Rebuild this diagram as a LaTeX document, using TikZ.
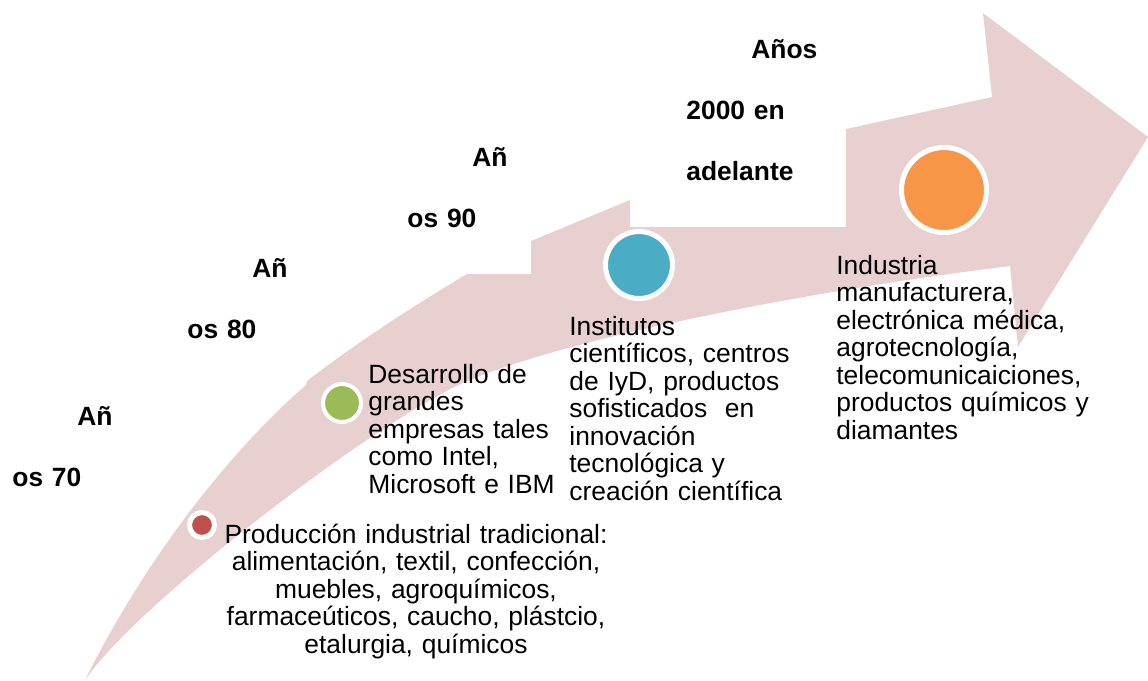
\documentclass[tikz,border=0pt]{standalone}
\usepackage{fontspec}
\setmainfont{Liberation Sans}

\definecolor{banda}{RGB}{232,208,209}
\definecolor{rojo}{RGB}{192,80,77}
\definecolor{verde}{RGB}{155,187,89}
\definecolor{azul}{RGB}{75,172,198}
\definecolor{naranja}{RGB}{247,150,70}

\tikzset{
  punto/.style={circle, draw=white, inner sep=0pt},
  etapa/.style={inner sep=0pt, font=\fontsize{13.2pt}{13.75pt}\selectfont},
  periodo/.style={inner sep=0pt, anchor=base west, align=left, text width=80pt,
    font=\fontsize{13.2pt}{30.5pt}\selectfont\bfseries}
}

\begin{document}
\begin{tikzpicture}[x=0.5pt, y=-0.5pt]
\useasboundingbox (0,0) rectangle (1148,681);

% flecha curva
\fill[banda] (85,680) .. controls (140,570) and (220,460) .. (306,385)
  -- (307,381) .. controls (360,340) and (420,302) .. (467,274)
  -- (531,274) -- (531,241) -- (630,200) -- (630,227) -- (846,227) -- (846,129)
  -- (992,97) -- (983,13) -- (1148,137) -- (1018,347) -- (1010,266)
  .. controls (800,292) and (560,340) .. (463,383)
  .. controls (372,424) and (138,603) .. (85,680)
  -- cycle;

\node[punto, fill=rojo, line width=2.5pt, minimum size=12.5pt] (p70) at (202,525) {};
\node[punto, fill=verde, line width=2pt, minimum size=19pt] (p80) at (342,403) {};
\node[punto, fill=azul, line width=2.5pt, minimum size=33.5pt] (p90) at (639,265) {};
\node[punto, fill=naranja, line width=2.5pt, minimum size=42.5pt] (p00) at (944,190) {};

\node[periodo] (a70) at (12,425) {\hspace*{32.5pt}Añ\\os 70};
\node[periodo] (a80) at (187,277) {\hspace*{32.5pt}Añ\\os 80};
\node[periodo] (a90) at (407,166) {\hspace*{32.5pt}Añ\\os 90};
\node[periodo] (a00) at (686,58) {\hspace*{32.5pt}Años\\2000 en\\adelante};

\node[etapa, anchor=base, align=center, text width=205pt] (t70) at (416,543)
  {Producción industrial tradicional:\\alimentación, textil, confección,\\muebles, agroquímicos,\\farmaceúticos, caucho, plástcio,\\etalurgia, químicos};
\node[etapa, anchor=base west, align=left, text width=100pt] (t80) at (368,383)
  {Desarrollo de\\grandes\\empresas tales\\como Intel,\\Microsoft e IBM};
\node[etapa, anchor=base west, align=left, text width=115pt] (t90) at (569,335)
  {Institutos\\científicos, centros\\de IyD, productos\\sofisticados\ \ en\\innovación\\tecnológica y\\creación científica};
\node[etapa, anchor=base west, align=left, text width=135pt] (t00) at (836,274)
  {Industria\\manufacturera,\\electrónica médica,\\agrotecnología,\\telecomunicaiciones,\\productos químicos y\\diamantes};

\end{tikzpicture}
\end{document}
